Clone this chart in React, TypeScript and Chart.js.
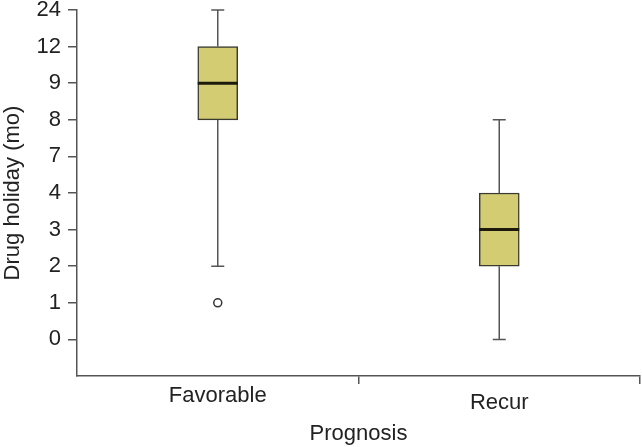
import React, { useEffect, useRef } from "react";
import { Chart, registerables } from "chart.js";

Chart.register(...registerables);

// Data
const CATEGORIES = ["Favorable", "Recur"];
const Y_TICKS = [0, 1, 2, 3, 4, 7, 8, 9, 12, 24];
const MIN_VALUES = [2, 0];
const Q1_VALUES = [8, 2];
const MEDIAN_VALUES = [9, 3];
const Q3_VALUES = [12, 4];
const MAX_VALUES = [24, 8];
const OUTLIERS = [[1], []];

const X_TITLE = "Prognosis";
const Y_TITLE = "Drug holiday (mo)";

const FONT = "'Liberation Sans', Arial, Helvetica, sans-serif";
const TEXT = "#222222";
const AXIS = "#555555";
const BOX_FILL = "#D4CC72";
const BOX_EDGE = "#3a3a30";

const idx = (v: number) => Y_TICKS.indexOf(v);

const boxPlugin = {
  id: "boxExtras",
  afterDatasetsDraw(chart: any) {
    const { ctx } = chart;
    const xs = chart.scales.x;
    const ys = chart.scales.y;
    const halfBox = 20;
    const halfCap = 6.5;
    ctx.save();
    CATEGORIES.forEach((_, i) => {
      const x = xs.getPixelForValue(i);
      const yMin = ys.getPixelForValue(idx(MIN_VALUES[i]));
      const yQ1 = ys.getPixelForValue(idx(Q1_VALUES[i]));
      const yMed = ys.getPixelForValue(idx(MEDIAN_VALUES[i]));
      const yQ3 = ys.getPixelForValue(idx(Q3_VALUES[i]));
      const yMax = ys.getPixelForValue(idx(MAX_VALUES[i]));
      // whiskers
      ctx.strokeStyle = AXIS;
      ctx.lineWidth = 1.5;
      ctx.beginPath();
      ctx.moveTo(x, yQ3);
      ctx.lineTo(x, yMax);
      ctx.moveTo(x - halfCap, yMax);
      ctx.lineTo(x + halfCap, yMax);
      ctx.moveTo(x, yQ1);
      ctx.lineTo(x, yMin);
      ctx.moveTo(x - halfCap, yMin);
      ctx.lineTo(x + halfCap, yMin);
      ctx.stroke();
      // median
      ctx.strokeStyle = "#1c1a0c";
      ctx.lineWidth = 3;
      ctx.beginPath();
      ctx.moveTo(x - halfBox, yMed);
      ctx.lineTo(x + halfBox, yMed);
      ctx.stroke();
      // outliers
      OUTLIERS[i].forEach((v) => {
        const y = ys.getPixelForValue(idx(v));
        ctx.beginPath();
        ctx.arc(x, y, 4, 0, Math.PI * 2);
        ctx.fillStyle = "#ffffff";
        ctx.fill();
        ctx.strokeStyle = "#333333";
        ctx.lineWidth = 1.5;
        ctx.stroke();
      });
    });
    // x category labels
    ctx.fillStyle = TEXT;
    ctx.font = `22px ${FONT}`;
    ctx.textAlign = "center";
    ctx.textBaseline = "alphabetic";
    CATEGORIES.forEach((label, i) => {
      const x = xs.getPixelForValue(i);
      ctx.fillText(label, x, xs.top + 26 + (i % 2) * 7);
    });
    ctx.restore();
  },
};

export default function App() {
  const ref = useRef<HTMLCanvasElement>(null);
  useEffect(() => {
    if (!ref.current) return;
    const chart = new Chart(ref.current, {
      type: "bar",
      data: {
        labels: CATEGORIES,
        datasets: [
          {
            data: CATEGORIES.map((_, i) => [idx(Q1_VALUES[i]), idx(Q3_VALUES[i])]) as any,
            backgroundColor: BOX_FILL,
            borderColor: BOX_EDGE,
            borderWidth: 1.5,
            borderSkipped: false,
            barThickness: 40,
          },
        ],
      },
      options: {
        animation: false,
        responsive: false,
        devicePixelRatio: 1,
        layout: { padding: { top: 10, right: 2, left: 0, bottom: 0 } },
        plugins: { legend: { display: false }, tooltip: { enabled: false } },
        scales: {
          x: {
            type: "category",
            offset: true,
            grid: {
              offset: true,
              drawOnChartArea: false,
              drawTicks: true,
              tickLength: 8,
              lineWidth: 1.5,
              color: (c: any) => (c.index === 0 ? "rgba(0,0,0,0)" : AXIS),
            },
            border: { display: true, color: AXIS, width: 1.5 },
            ticks: { display: false },
            title: {
              display: true,
              text: X_TITLE,
              color: TEXT,
              font: { family: FONT, size: 22 },
              padding: { top: 0, bottom: 0 },
            },
            afterFit: (s: any) => {
              s.height = 71;
              s.paddingLeft = 0;
              s.paddingRight = 0;
            },
          },
          y: {
            type: "linear",
            min: -1,
            max: 9,
            afterBuildTicks: (s: any) => {
              s.ticks = Y_TICKS.map((_, i) => ({ value: i }));
            },
            ticks: {
              color: TEXT,
              font: { family: FONT, size: 22 },
              padding: 7,
              callback: (v: any) => {
                const t = Y_TICKS[v as number];
                return t === undefined ? "" : String(t);
              },
            },
            grid: {
              drawOnChartArea: false,
              drawTicks: true,
              tickLength: 9,
              lineWidth: 1.5,
              color: AXIS,
            },
            border: { display: true, color: AXIS, width: 1.5 },
            title: {
              display: true,
              text: Y_TITLE,
              color: TEXT,
              font: { family: FONT, size: 22 },
              padding: { top: 0, bottom: 0 },
            },
            afterFit: (s: any) => {
              s.width = 77;
              s.paddingTop = 0;
              s.paddingBottom = 0;
            },
          },
        },
      },
      plugins: [boxPlugin],
    });
    return () => chart.destroy();
  }, []);
  return (
    <div style={{ position: "absolute", left: 0, top: 0, width: 642, height: 447, background: "#fff" }}>
      <canvas ref={ref} width={642} height={447} />
    </div>
  );
}
